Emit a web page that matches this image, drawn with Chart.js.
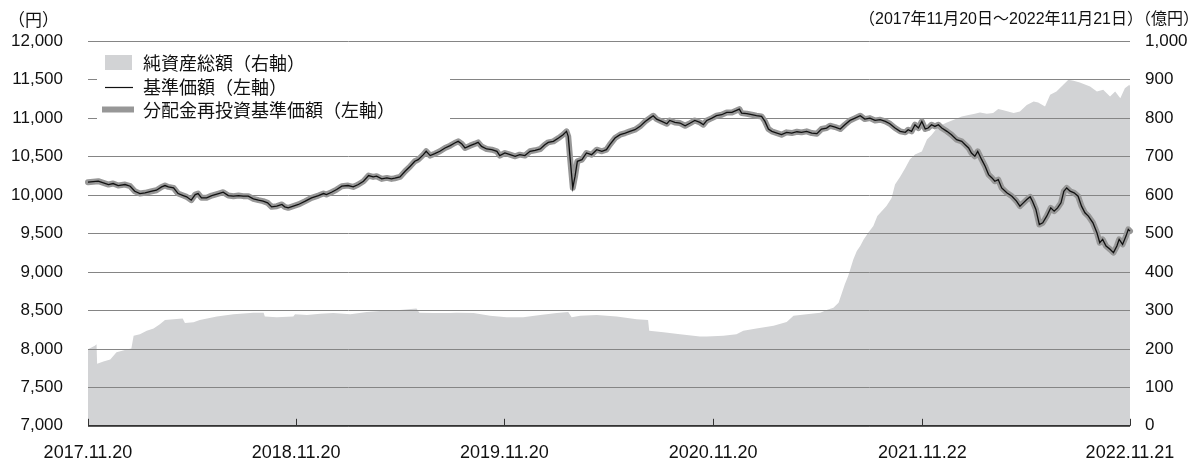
<!DOCTYPE html>
<html lang="ja">
<head>
<meta charset="utf-8">
<script src="https://cdn.jsdelivr.net/npm/chart.js@4.4.0/dist/chart.umd.min.js"></script>
<style>
  html, body { margin: 0; padding: 0; background: #fff; }
  canvas { display: block; }
</style>
</head>
<body>
<canvas id="navChart" width="1200" height="461"></canvas>
<script>
// x values are days counted from 2017.11.20
const xTickDays = [0, 365, 730, 1096, 1463, 1827]
const xTickLabels = ['2017.11.20', '2018.11.20', '2019.11.20', '2020.11.20', '2021.11.22', '2022.11.21']

// 基準価額 (円)
const navDays = [
  0, 18, 27, 36, 44, 53, 65, 74, 82, 91, 100, 112, 120, 129, 135, 141, 150, 158, 167, 173,
  181, 188, 193, 199, 208, 217, 229, 237, 246, 255, 264, 272, 281, 290, 299, 307, 315, 322, 331, 340,
  345, 351, 360, 369, 381, 392, 404, 413, 418, 427, 436, 445, 456, 465, 474, 483, 492, 500, 506, 515,
  524, 532, 538, 547, 556, 565, 573, 579, 588, 593, 600, 608, 617, 626, 635, 643, 649, 655, 661, 670,
  679, 684, 690, 699, 708, 717, 722, 731, 740, 749, 757, 766, 775, 784, 793, 801, 807, 816, 825, 833,
  839, 842, 845, 850, 854, 858, 866, 874, 883, 892, 901, 909, 915, 924, 933, 942, 950, 959, 968, 977,
  985, 991, 997, 1006, 1015, 1020, 1029, 1038, 1047, 1056, 1064, 1073, 1079, 1085, 1094, 1102, 1111, 1120, 1129, 1137,
  1142, 1146, 1155, 1164, 1172, 1181, 1187, 1193, 1199, 1208, 1216, 1225, 1234, 1243, 1251, 1260, 1269, 1278, 1286, 1295,
  1301, 1310, 1319, 1327, 1336, 1345, 1354, 1362, 1371, 1380, 1389, 1398, 1406, 1415, 1424, 1433, 1438, 1444, 1450, 1456,
  1462, 1468, 1473, 1479, 1485, 1491, 1497, 1506, 1514, 1523, 1532, 1538, 1544, 1549, 1555, 1560, 1567, 1573, 1579, 1585,
  1590, 1596, 1602, 1611, 1620, 1628, 1634, 1640, 1646, 1652, 1656, 1662, 1668, 1674, 1681, 1688, 1694, 1700, 1706, 1711,
  1716, 1722, 1729, 1736, 1742, 1748, 1754, 1762, 1769, 1774, 1779, 1785, 1792, 1798, 1804, 1808, 1814, 1820, 1824, 1827
]
const navValues = [
  10165, 10178, 10156, 10135, 10148, 10122, 10135, 10113, 10048, 10018, 10027, 10048, 10061, 10104, 10122, 10104, 10092, 10018, 9992, 9975,
  9932, 10005, 10018, 9962, 9962, 9992, 10018, 10035, 9992, 9984, 9992, 9984, 9984, 9949, 9932, 9919, 9897, 9845, 9854, 9876,
  9845, 9832, 9854, 9876, 9919, 9962, 9992, 10018, 10005, 10035, 10070, 10113, 10122, 10104, 10135, 10178, 10251, 10234, 10243, 10208,
  10221, 10208, 10217, 10234, 10308, 10372, 10437, 10459, 10523, 10567, 10511, 10536, 10567, 10610, 10640, 10675, 10696, 10666, 10610, 10640,
  10666, 10683, 10631, 10597, 10588, 10567, 10511, 10545, 10523, 10502, 10523, 10511, 10567, 10580, 10597, 10653, 10683, 10696, 10739, 10783,
  10826, 10761, 10502, 10092, 10243, 10437, 10459, 10545, 10523, 10588, 10567, 10588, 10653, 10739, 10783, 10804, 10826, 10847, 10891, 10955,
  10998, 11029, 10985, 10955, 10925, 10968, 10942, 10934, 10899, 10934, 10968, 10942, 10912, 10968, 10998, 11029, 11042, 11072, 11072, 11098,
  11115, 11063, 11055, 11042, 11029, 11020, 10955, 10856, 10826, 10804, 10783, 10813, 10804, 10821, 10813, 10826, 10804, 10796, 10856, 10869,
  10899, 10882, 10856, 10912, 10968, 10998, 11029, 10985, 10998, 10968, 10977, 10955, 10925, 10869, 10826, 10813, 10847, 10826, 10912, 10869,
  10955, 10856, 10869, 10912, 10890, 10912, 10869, 10826, 10782, 10718, 10696, 10653, 10610, 10545, 10502, 10566, 10458, 10372, 10264, 10221,
  10178, 10199, 10091, 10027, 9983, 9919, 9854, 9897, 9940, 9975, 9919, 9811, 9616, 9638, 9724, 9832, 9789, 9832, 9897, 10048,
  10091, 10048, 10027, 9983, 9854, 9768, 9724, 9638, 9509, 9379, 9422, 9336, 9293, 9250, 9336, 9422, 9357, 9465, 9552, 9530
]
// no distributions paid, so the reinvested NAV follows the NAV
const reinvestedValues = navValues

// 純資産総額 (億円)
const assetDays = [
  0, 12, 15, 16, 27, 39, 50, 68, 76, 80, 91, 103, 115, 126, 135, 150, 166, 170, 185, 196,
  226, 255, 290, 308, 310, 331, 360, 363, 384, 407, 430, 460, 489, 518, 547, 576, 581, 606, 635, 646,
  676, 705, 734, 763, 793, 822, 842, 848, 863, 892, 927, 962, 982, 984, 1009, 1038, 1073, 1085, 1114, 1137,
  1149, 1172, 1202, 1225, 1237, 1260, 1284, 1295, 1307, 1316, 1322, 1327, 1333, 1342, 1348, 1354, 1360, 1368, 1377, 1384,
  1392, 1400, 1409, 1415, 1424, 1433, 1441, 1450, 1462, 1471, 1479, 1491, 1506, 1517, 1532, 1544, 1555, 1564, 1576, 1587,
  1596, 1605, 1623, 1634, 1646, 1658, 1666, 1678, 1687, 1698, 1710, 1719, 1728, 1739, 1757, 1769, 1780, 1792, 1801, 1810,
  1818, 1826, 1827
]
const assetValues = [
  199, 208, 212, 161, 167, 172, 191, 198, 201, 234, 238, 247, 253, 264, 275, 277, 279, 267, 269, 275,
  284, 290, 294, 294, 284, 282, 284, 290, 288, 291, 293, 290, 296, 299, 301, 305, 294, 293, 293, 294,
  293, 286, 282, 282, 288, 293, 296, 282, 286, 288, 284, 277, 275, 247, 243, 238, 232, 232, 234, 238,
  247, 253, 260, 270, 286, 290, 294, 301, 307, 320, 346, 368, 390, 433, 454, 467, 484, 502, 519, 545,
  558, 571, 592, 627, 647, 670, 692, 705, 713, 744, 756, 778, 788, 795, 804, 808, 811, 814, 811, 813,
  823, 820, 813, 817, 834, 843, 840, 830, 860, 869, 886, 899, 897, 892, 882, 869, 873, 856, 869, 851,
  877, 886, 882
]

const toPoints = (days, values) => days.map((d, i) => ({ x: d, y: values[i] }))

const AREA_COLOR = '#d2d3d5'
const GRID_COLOR = '#858585'
const REINVEST_COLOR = '#979797'
const JP_FONT = "'Noto Sans CJK JP', 'Liberation Sans', sans-serif"
const NUM_FONT = "'Liberation Sans', 'Noto Sans CJK JP', sans-serif"

// grid under the lines but over the area, legend box, axis line and ticks
const chartDecor = {
  id: 'chartDecor',
  afterDatasetDraw(chart, args) {
    if (args.index !== 0) return
    const { ctx, chartArea: a, scales: { y } } = chart
    ctx.save()
    ctx.strokeStyle = GRID_COLOR
    ctx.lineWidth = 1
    y.ticks.forEach(t => {
      const py = Math.round(y.getPixelForValue(t.value)) + 0.5
      ctx.beginPath()
      ctx.moveTo(a.left, py)
      ctx.lineTo(a.right, py)
      ctx.stroke()
    })
    ctx.restore()
  },
  afterDatasetsDraw(chart) {
    const { ctx, chartArea: a, scales: { x } } = chart
    ctx.save()

    // bottom axis line and the short upward ticks
    ctx.strokeStyle = '#333'
    ctx.lineWidth = 1.5
    ctx.beginPath()
    ctx.moveTo(a.left, a.bottom)
    ctx.lineTo(a.right, a.bottom)
    ctx.stroke()
    ctx.lineWidth = 1
    xTickDays.forEach(d => {
      const px = Math.round(x.getPixelForValue(d)) + 0.5
      ctx.beginPath()
      ctx.moveTo(px, a.bottom)
      ctx.lineTo(px, a.bottom - 7)
      ctx.stroke()
    })

    // legend on a white box
    const lx = a.left + 9
    const ly = a.top + 7
    ctx.fillStyle = '#fff'
    ctx.fillRect(lx, ly, 353, 82)

    ctx.fillStyle = AREA_COLOR
    ctx.fillRect(lx + 8, ly + 7, 27, 15)

    ctx.strokeStyle = '#111'
    ctx.lineWidth = 1.2
    ctx.beginPath()
    ctx.moveTo(lx + 8, ly + 39.5)
    ctx.lineTo(lx + 36, ly + 39.5)
    ctx.stroke()

    ctx.strokeStyle = REINVEST_COLOR
    ctx.lineWidth = 6
    ctx.beginPath()
    ctx.moveTo(lx + 5, ly + 61.5)
    ctx.lineTo(lx + 37, ly + 61.5)
    ctx.stroke()

    ctx.fillStyle = '#111'
    ctx.font = '18px ' + JP_FONT
    ctx.textBaseline = 'middle'
    ctx.textAlign = 'left'
    ctx.fillText('純資産総額（右軸）', lx + 46, ly + 15)
    ctx.fillText('基準価額（左軸）', lx + 46, ly + 39)
    ctx.fillText('分配金再投資基準価額（左軸）', lx + 46, ly + 62)
    ctx.restore()
  },
  afterDraw(chart) {
    const { ctx } = chart
    ctx.save()
    ctx.fillStyle = '#111'
    ctx.textBaseline = 'middle'
    ctx.font = '17px ' + JP_FONT
    ctx.textAlign = 'left'
    ctx.fillText('（円）', 8, 20)
    ctx.font = '16px ' + NUM_FONT
    ctx.textAlign = 'right'
    ctx.fillText('（2017年11月20日～2022年11月21日）（億円）', 1199, 20)
    ctx.restore()
  }
}

const config = {
  type: 'line',
  data: {
    datasets: [
      {
        label: '純資産総額（右軸）',
        data: toPoints(assetDays, assetValues),
        yAxisID: 'y1',
        backgroundColor: AREA_COLOR,
        borderWidth: 0,
        pointRadius: 0,
        fill: 'start',
        order: 3
      },
      {
        label: '分配金再投資基準価額（左軸）',
        data: toPoints(navDays, reinvestedValues),
        yAxisID: 'y',
        borderColor: REINVEST_COLOR,
        borderWidth: 6,
        borderJoinStyle: 'round',
        borderCapStyle: 'round',
        pointRadius: 0,
        fill: false,
        clip: 6,
        order: 2
      },
      {
        label: '基準価額（左軸）',
        data: toPoints(navDays, navValues),
        yAxisID: 'y',
        borderColor: '#111',
        borderWidth: 1.3,
        pointRadius: 0,
        fill: false,
        clip: 6,
        order: 1
      }
    ]
  },
  options: {
    responsive: false,
    animation: false,
    devicePixelRatio: 1,
    layout: { padding: { top: 41, left: 0, right: 0, bottom: 0 } },
    plugins: {
      legend: { display: false },
      tooltip: { enabled: false }
    },
    scales: {
      x: {
        type: 'linear',
        min: 0,
        max: 1827,
        afterBuildTicks: s => { s.ticks = xTickDays.map(v => ({ value: v })) },
        afterFit: s => { s.height = 34 },
        grid: { display: false, drawTicks: false },
        border: { display: false },
        ticks: {
          autoSkip: false,
          maxRotation: 0,
          padding: 16,
          color: '#111',
          font: { family: NUM_FONT, size: 18 },
          callback: v => xTickLabels[xTickDays.indexOf(v)]
        }
      },
      y: {
        position: 'left',
        min: 7000,
        max: 12000,
        afterFit: s => { s.width = 88 },
        grid: { display: false, drawTicks: false },
        border: { display: false },
        ticks: {
          stepSize: 500,
          padding: 25,
          color: '#111',
          font: { family: NUM_FONT, size: 17 }
        }
      },
      y1: {
        position: 'right',
        min: 0,
        max: 1000,
        afterFit: s => { s.width = 70 },
        grid: { display: false, drawTicks: false },
        border: { display: false },
        ticks: {
          stepSize: 100,
          padding: 15,
          color: '#111',
          font: { family: NUM_FONT, size: 17 }
        }
      }
    }
  },
  plugins: [chartDecor]
}

const ctx = document.querySelector('#navChart').getContext('2d')
const navChart = new Chart(ctx, config)
</script>
</body>
</html>
